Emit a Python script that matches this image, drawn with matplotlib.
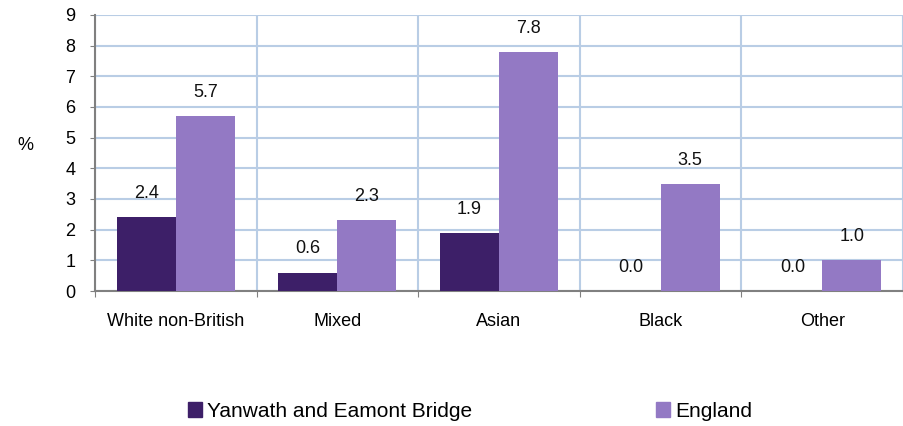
import numpy as np
import matplotlib.pyplot as plt
from matplotlib.patches import Patch

plt.rcParams['font.family'] = ['Liberation Sans', 'DejaVu Sans']

categories = ["White non-British", "Mixed", "Asian", "Black", "Other"]
local = [2.4, 0.6, 1.9, 0.0, 0.0]
england = [5.7, 2.3, 7.8, 3.5, 1.0]
series_names = ["Yanwath and Eamont Bridge", "England"]

dark = '#3D1F68'
light = '#9379C4'
grid_col = '#B9CDE5'

fig = plt.figure(figsize=(9.04, 4.26), dpi=100)
ax = fig.add_axes([0.1051, 0.3169, 0.8938, 0.6479])

x = np.arange(len(categories))
w = 0.365
b1 = ax.bar(x - w / 2, local, w, color=dark, zorder=3)
b2 = ax.bar(x + w / 2, england, w, color=light, zorder=3)

for bars, vals in [(b1, local), (b2, england)]:
    for rect, v in zip(bars, vals):
        ax.annotate(f"{v:.1f}", (rect.get_x() + rect.get_width() / 2, v),
                    xytext=(0, 17), textcoords='offset points',
                    ha='center', va='center', fontsize=13, color='#111111')

ax.set_xlim(-0.5, len(categories) - 0.5)
ax.set_ylim(0, 9)
ax.set_yticks(range(0, 10))
ax.tick_params(axis='y', labelsize=13, length=3.6, color='#808080', pad=10.5)

# category boundaries carry the ticks and vertical grid lines
bounds = np.arange(-0.5, len(categories), 1.0)
ax.set_xticks(bounds)
ax.set_xticklabels([])
ax.set_xticks(x, minor=True)
ax.set_xticklabels(categories, minor=True, fontsize=13)
ax.tick_params(axis='x', which='major', length=4, color='#808080')
ax.tick_params(axis='x', which='minor', length=0, pad=16)

ax.grid(True, which='major', color=grid_col, linewidth=1.5, zorder=0)
ax.set_axisbelow(True)

for s in ['top', 'right']:
    ax.spines[s].set_visible(False)
for s in ['left', 'bottom']:
    ax.spines[s].set_color('#808080')
    ax.spines[s].set_linewidth(1.5)

fig.text(25 / 904, 1 - 145 / 426, "%", fontsize=13, ha='center', va='center')

handles = [Patch(color=dark), Patch(color=light)]
fig.legend(handles, series_names, loc='center', bbox_to_anchor=(0.52, 0.035),
           ncol=2, frameon=False, fontsize=15, handlelength=0.67,
           handleheight=0.75, handletextpad=0.25, columnspacing=8.8,
           borderpad=0, borderaxespad=0)

fig.savefig("out.png", dpi=100)
